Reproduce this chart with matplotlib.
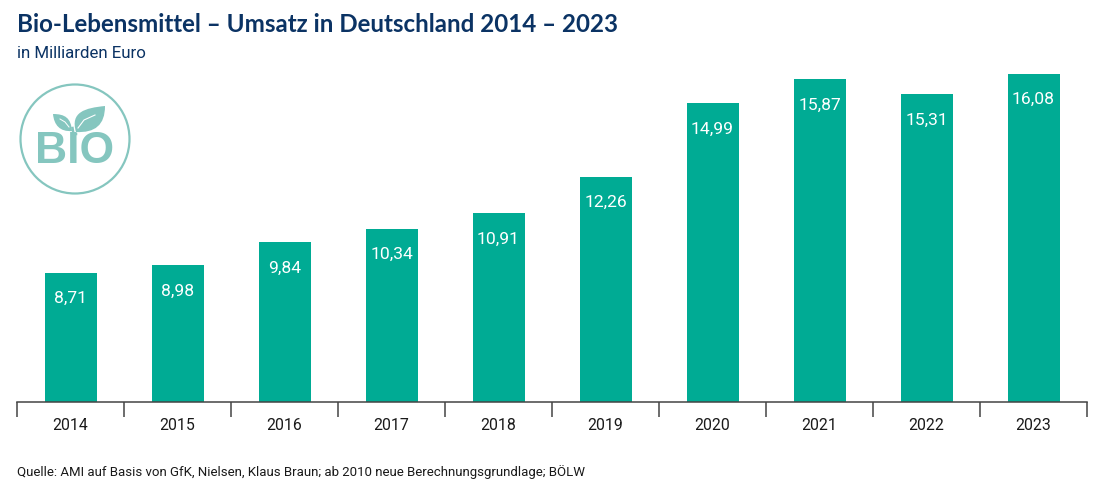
import matplotlib
matplotlib.use("Agg")
import matplotlib.pyplot as plt
from matplotlib.patches import Circle, PathPatch
from matplotlib.path import Path

years = ["2014","2015","2016","2017","2018","2019","2020","2021","2022","2023"]
values = [8.71,8.98,9.84,10.34,10.91,12.26,14.99,15.87,15.31,16.08]
title = "Bio-Lebensmittel – Umsatz in Deutschland 2014 – 2023"
subtitle = "in Milliarden Euro"
source = "Quelle: AMI auf Basis von GfK, Nielsen, Klaus Braun; ab 2010 neue Berechnungsgrundlage; BÖLW"

GREEN = "#00AB94"; NAVY = "#0B3364"; LOGO = "#85C6BF"; GREY = "#444444"
W, H = 1102, 490
plt.rcParams["font.family"] = "Roboto"
fig = plt.figure(figsize=(W/100, H/100), dpi=100, facecolor="white")

ax = fig.add_axes([17/W, 1-402/H, 1070/W, 342/H])
ax.bar(range(len(years)), values, width=52/107, color=GREEN, zorder=2)
ax.set_xlim(-0.5, 9.5)
y0 = 3.924
scale = 27.02
ax.set_ylim(y0, y0 + 342/scale)
for s in ("top","left","right"):
    ax.spines[s].set_visible(False)
ax.spines["bottom"].set_color(GREY); ax.spines["bottom"].set_linewidth(1.1)
ax.set_yticks([])
ax.set_xticks([i-0.5 for i in range(11)])
ax.set_xticklabels([])
ax.tick_params(axis="x", length=10.8, width=1.1, color=GREY)
for i, (yr, v) in enumerate(zip(years, values)):
    ax.annotate(yr, (i, 0), xycoords=("data","axes fraction"), xytext=(0,-23*0.72),
                textcoords="offset points", ha="center", va="center",
                fontsize=11.4, color="#1a1a1a")
    ax.annotate(f"{v:.2f}".replace(".", ","), (i, v), xytext=(0,-26*0.72),
                textcoords="offset points", ha="center", va="center",
                fontsize=12.6, color="white", zorder=3)

ov = fig.add_axes([0,0,1,1], facecolor="none")
ov.set_xlim(0,W); ov.set_ylim(H,0); ov.axis("off")
ov.text(17, 25, title, fontsize=17.35, fontweight="bold", color=NAVY, family="Lato", va="center", ha="left")
ov.text(17, 53, subtitle, fontsize=12.2, color=NAVY, va="center", ha="left")
ov.text(17, 472, source, fontsize=9.5, color="#1a1a1a", va="center", ha="left")

# Logo
ov.add_patch(Circle((75,139), 54.5, fill=False, ec=LOGO, lw=1.6))
ov.text(75, 151, "BIO", fontsize=32, fontweight="bold", color=LOGO, family="Liberation Sans", ha="center", va="center")
M,C,Z = Path.MOVETO, Path.CURVE4, Path.CLOSEPOLY
right_leaf = Path([(76,132),(70,112),(85,108),(105,106),(105,125),(95,133),(76,132),(76,132)],[M,C,C,C,C,C,C,Z])
left_leaf = Path([(72,131),(71,118),(65,114),(53,114),(54,125),(60,132),(72,131),(72,131)],[M,C,C,C,C,C,C,Z])
ov.add_patch(PathPatch(right_leaf, fc=LOGO, ec="none"))
ov.add_patch(PathPatch(left_leaf, fc=LOGO, ec="none"))
ov.plot([78,84,95],[128,120,115], color="white", lw=0.8)
ov.plot([69,65,60],[127,122,119], color="white", lw=0.7)
ov.plot([72.5,73.5,76],[128,134,134], color=LOGO, lw=1.8)
fig.savefig("out.png", dpi=100)
